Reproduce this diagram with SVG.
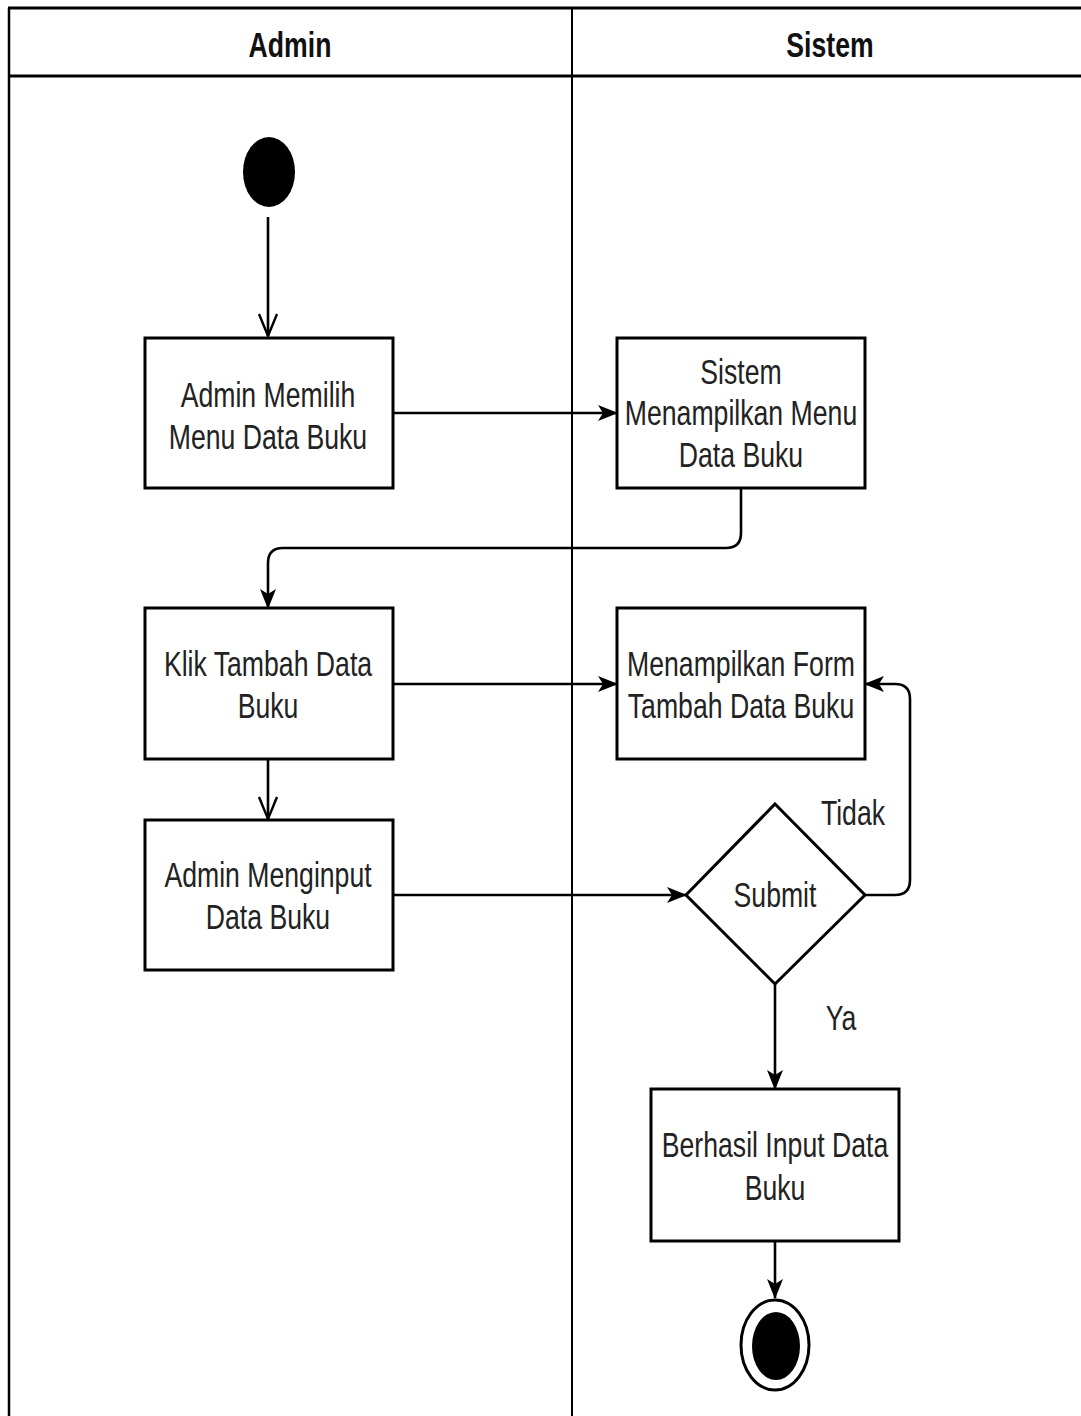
<svg xmlns="http://www.w3.org/2000/svg" width="1081" height="1416" viewBox="0 0 1081 1416">
<style>
.lane{stroke:#000;fill:none}
.box{fill:#fff;stroke:#000;stroke-width:3}
.t{font-family:"Liberation Sans",Arial,sans-serif;font-size:36px;fill:#222;text-anchor:middle}
.h{font-family:"Liberation Sans",Arial,sans-serif;font-size:36px;font-weight:bold;fill:#111;text-anchor:middle}
.c{fill:none;stroke:#000;stroke-width:2.6}
</style>
<defs>
<marker id="fa" viewBox="0 0 20 16" refX="19" refY="8" markerWidth="20" markerHeight="16" markerUnits="userSpaceOnUse" orient="auto">
<path d="M0,0 L20,8 L0,16 L5,8 z" fill="#000"/>
</marker>
<marker id="oa" viewBox="-2 -2 26 22" refX="22" refY="9" markerWidth="26" markerHeight="22" markerUnits="userSpaceOnUse" orient="auto">
<path d="M0,0 L22,9 L0,18" fill="none" stroke="#000" stroke-width="2.4"/>
</marker>
</defs>
<rect width="1081" height="1416" fill="#fff"/>
<g id="lanes">
<path class="lane" stroke-width="3" d="M8,8 L1081,8 M8,76 L1081,76"/>
<path class="lane" stroke-width="2.5" d="M9,8 L9,1416"/>
<path class="lane" stroke-width="2" d="M572,8 L572,1416"/>
<text class="h" transform="translate(290,57) scale(0.74,1)" x="0" y="0">Admin</text>
<text class="h" transform="translate(830,57) scale(0.74,1)" x="0" y="0">Sistem</text>
</g>
<g id="connectors">
<path class="c" d="M268,217 L268,336" marker-end="url(#oa)"/>
<path class="c" d="M393,413 L617,413" marker-end="url(#fa)"/>
<path class="c" d="M741,488 L741,533 Q741,548 726,548 L283,548 Q268,548 268,563 L268,608" marker-end="url(#fa)"/>
<path class="c" d="M393,684 L617,684" marker-end="url(#fa)"/>
<path class="c" d="M268,759 L268,819" marker-end="url(#oa)"/>
<path class="c" d="M393,895 L686,895" marker-end="url(#fa)"/>
<path class="c" d="M865,895 L895,895 Q910,895 910,880 L910,699 Q910,684 895,684 L865,684" marker-end="url(#fa)"/>
<path class="c" d="M775,983 L775,1089" marker-end="url(#fa)"/>
<path class="c" d="M775,1241 L775,1298" marker-end="url(#fa)"/>
<text class="t" transform="translate(853,825) scale(0.74,1)" x="0" y="0">Tidak</text>
<text class="t" transform="translate(841,1030) scale(0.74,1)" x="0" y="0">Ya</text>
</g>
<g id="start">
<ellipse cx="269" cy="172" rx="26" ry="35" fill="#000"/>
</g>
<g id="n1">
<rect class="box" x="145" y="338" width="248" height="150"/>
<text class="t" transform="translate(268,407) scale(0.74,1)" x="0" y="0">Admin Memilih</text>
<text class="t" transform="translate(268,449) scale(0.74,1)" x="0" y="0">Menu Data Buku</text>
</g>
<g id="n2">
<rect class="box" x="617" y="338" width="248" height="150"/>
<text class="t" transform="translate(741,384) scale(0.74,1)" x="0" y="0">Sistem</text>
<text class="t" transform="translate(741,425) scale(0.74,1)" x="0" y="0">Menampilkan Menu</text>
<text class="t" transform="translate(741,467) scale(0.74,1)" x="0" y="0">Data Buku</text>
</g>
<g id="n3">
<rect class="box" x="145" y="608" width="248" height="151"/>
<text class="t" transform="translate(268,676) scale(0.74,1)" x="0" y="0">Klik Tambah Data</text>
<text class="t" transform="translate(268,718) scale(0.74,1)" x="0" y="0">Buku</text>
</g>
<g id="n4">
<rect class="box" x="145" y="820" width="248" height="150"/>
<text class="t" transform="translate(268,887) scale(0.74,1)" x="0" y="0">Admin Menginput</text>
<text class="t" transform="translate(268,929) scale(0.74,1)" x="0" y="0">Data Buku</text>
</g>
<g id="n5">
<rect class="box" x="617" y="608" width="248" height="151"/>
<text class="t" transform="translate(741,676) scale(0.74,1)" x="0" y="0">Menampilkan Form</text>
<text class="t" transform="translate(741,718) scale(0.74,1)" x="0" y="0">Tambah Data Buku</text>
</g>
<g id="decision">
<polygon points="775,804 865,895 775,984 686,895" fill="#fff" stroke="#000" stroke-width="3"/>
<text class="t" transform="translate(775,907) scale(0.74,1)" x="0" y="0">Submit</text>
</g>
<g id="n6">
<rect class="box" x="651" y="1089" width="248" height="152"/>
<text class="t" transform="translate(775,1157) scale(0.74,1)" x="0" y="0">Berhasil Input Data</text>
<text class="t" transform="translate(775,1200) scale(0.74,1)" x="0" y="0">Buku</text>
</g>
<g id="end">
<ellipse cx="775" cy="1345" rx="34" ry="45" fill="#fff" stroke="#000" stroke-width="3"/>
<ellipse cx="776" cy="1346" rx="24" ry="34" fill="#000"/>
</g>
</svg>
